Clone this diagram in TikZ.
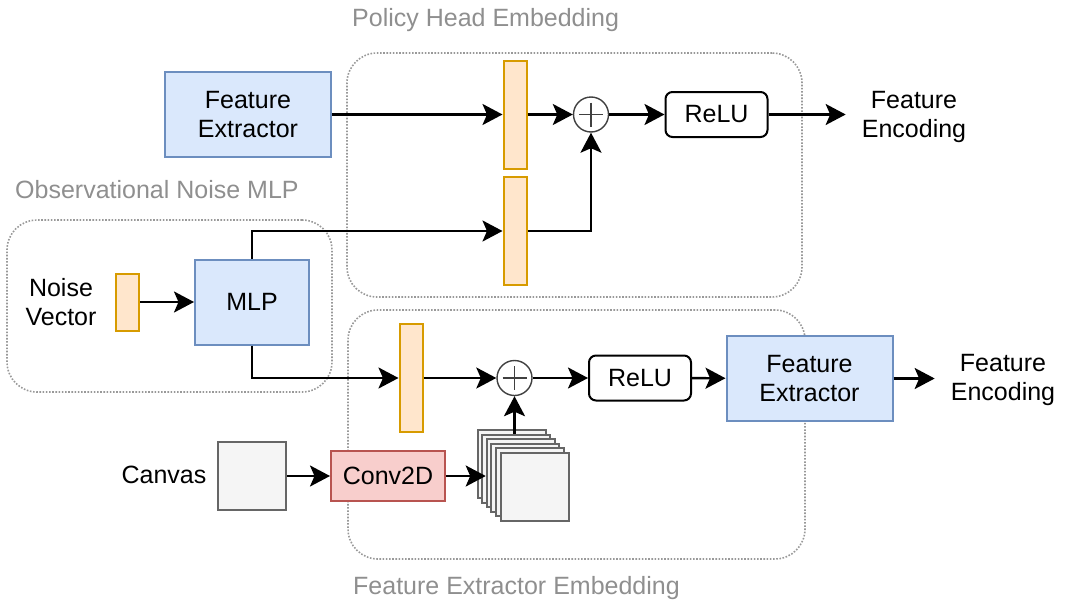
\documentclass[tikz,border=0pt]{standalone}
\usepackage{fontspec}
\setmainfont{Liberation Sans}
\usetikzlibrary{arrows.meta,calc}
\definecolor{bluef}{HTML}{DAE8FC}
\definecolor{bluee}{HTML}{6C8EBF}
\definecolor{orf}{HTML}{FFE6CC}
\definecolor{ore}{HTML}{D79B00}
\definecolor{grf}{HTML}{F5F5F5}
\definecolor{gre}{HTML}{666666}
\definecolor{pkf}{HTML}{F8CECC}
\definecolor{pke}{HTML}{B85450}
\definecolor{dotc}{HTML}{999999}
\definecolor{titc}{HTML}{8F8F8F}
\begin{document}
\begin{tikzpicture}[x=1pt,y=-1pt,
 every node/.style={font=\fontsize{25}{29}\selectfont, inner sep=0pt, align=center},
 blk/.style={draw=bluee, fill=bluef, line width=2pt},
 bar/.style={draw=ore, fill=orf, line width=2pt, minimum width=23pt, minimum height=108pt},
 relu/.style={draw=black, rounded corners=7pt, line width=2pt, minimum width=102pt, minimum height=45pt},
 plus/.style={circle, draw=black!75, line width=1.4pt, minimum size=35pt},
 grp/.style={draw=dotc, line width=1.6pt, dash pattern=on 1.6pt off 1.6pt, rounded corners=30pt},
 ttl/.style={text=titc, anchor=west},
 enc/.style={inner xsep=16pt},
 arr/.style={-{Stealth[length=20pt,width=21pt,inset=4.5pt]}, line width=2.4pt},
 gsq/.style={draw=gre, fill=grf, line width=2pt, minimum size=68pt},
 conv/.style={draw=pke, fill=pkf, line width=2pt, minimum width=114pt, minimum height=50pt},
]
\useasboundingbox (0,0) rectangle (1065,605);
% groups
\node[grp, minimum width=455pt, minimum height=244pt] (gph) at (574.5,175) {};
\node[grp, minimum width=325pt, minimum height=172pt] (gob) at (169.5,306) {};
\node[grp, minimum width=457pt, minimum height=249pt] (gfe) at (576.5,434.5) {};
\node[ttl] (tph) at (352,20) {Policy Head Embedding};
\node[ttl] (tob) at (15,190) {Observational Noise MLP};
\node[ttl] (tfe) at (353,588) {Feature Extractor Embedding};
% top row
\node[blk, minimum width=166pt, minimum height=85pt] (fe1) at (248,114.5) {Feature\\Extractor};
\node[bar] (bar1) at (515,114.5) {};
\node[bar] (bar2) at (515,231) {};
\node[plus] (p1) at (591,114.5) {};
\draw[black!75, line width=1.4pt] ($(p1.center)+(-12,0)$) -- ($(p1.center)+(12,0)$) ($(p1.center)+(0,-12)$) -- ($(p1.center)+(0,12)$);
\node[relu] (relu1) at (716.5,114.5) {ReLU};
\node[enc] (enc1) at (914,117) {Feature\\Encoding};
% noise MLP
\node (noise) at (61,302) {Noise\\Vector};
\node[bar, minimum height=57pt] (nbar) at (127.5,302) {};
\node[blk, minimum width=114pt, minimum height=85pt] (mlp) at (252,302) {MLP};
% bottom row
\node[bar] (bar3) at (411,378) {};
\node[plus] (p2) at (514.5,378) {};
\draw[black!75, line width=1.4pt] ($(p2.center)+(-12,0)$) -- ($(p2.center)+(12,0)$) ($(p2.center)+(0,-12)$) -- ($(p2.center)+(0,12)$);
\node[relu] (relu2) at (640,378) {ReLU};
\node[blk, minimum width=166pt, minimum height=85pt] (fe2) at (809.5,378.5) {Feature\\Extractor};
\node[enc] (enc2) at (1003,380) {Feature\\Encoding};
% canvas
\node (ctext) at (164,475) {Canvas};
\node[gsq] (cv) at (252,476) {};
\node[conv] (conv) at (388,476) {Conv2D};
\foreach \i in {0,...,5} {
  \node[gsq] (st\i) at ({511.5+4.6*\i},{464+4.6*\i}) {};
}
% connectors
\draw[arr] (fe1) -- (bar1);
\draw[arr] (bar1) -- (p1);
\draw[arr] (p1) -- (relu1);
\draw[arr] (relu1.east) -- (relu1.east -| enc1.west);
\draw[arr] (bar2) -| (p1);
\draw[arr] (nbar) -- (mlp);
\draw[arr] (mlp.north) |- (bar2);
\draw[arr] (mlp.south) |- (bar3);
\draw[arr] (bar3) -- (p2);
\draw[arr] (p2) -- (relu2);
\draw[arr] (relu2) -- (fe2);
\draw[arr] (fe2.east) -- (fe2.east -| enc2.west);
\draw[arr] (cv) -- (conv);
\draw[arr] (conv) -- (conv.east -| st2.west);
\draw[arr] (p2 |- st1.north) -- (p2);
\end{tikzpicture}
\end{document}
